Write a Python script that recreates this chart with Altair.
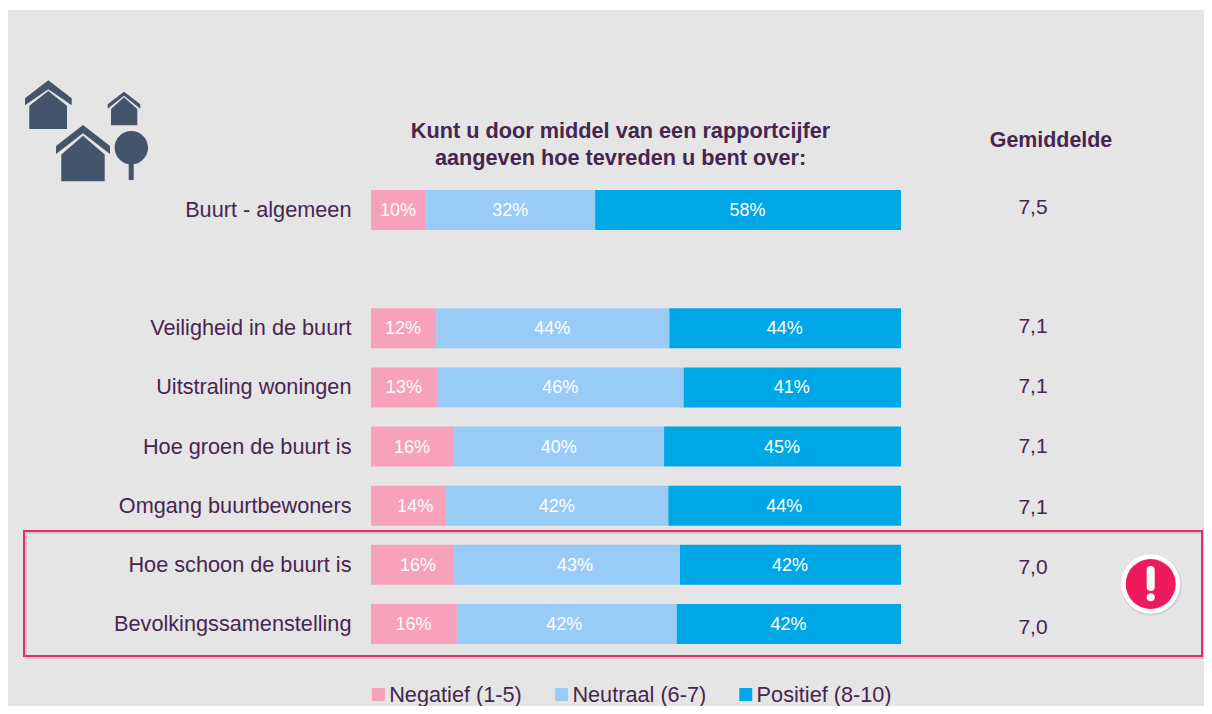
import altair as alt
import pandas as pd

# ---------- data ----------
rows = ["Buurt - algemeen", " ", "Veiligheid in de buurt", "Uitstraling woningen",
        "Hoe groen de buurt is", "Omgang buurtbewoners",
        "Hoe schoon de buurt is", "Bevolkingssamenstelling"]
series = ["Negatief (1-5)", "Neutraal (6-7)", "Positief (8-10)"]
colors = ["#f7a1bb", "#99cbf7", "#00a7e6"]

negatief = [10.4, None, 12.3, 12.6, 15.7, 14.2, 15.7, 16.2]
neutraal = [31.9, None, 44.0, 46.4, 39.6, 41.9, 42.6, 41.5]
positief = [57.7, None, 43.7, 41.0, 44.7, 43.9, 41.7, 42.3]

lab_neg = ["10%", None, "12%", "13%", "16%", "14%", "16%", "16%"]
lab_neu = ["32%", None, "44%", "46%", "40%", "42%", "43%", "42%"]
lab_pos = ["58%", None, "44%", "41%", "45%", "44%", "42%", "42%"]

gemiddelde = ["7,5", None, "7,1", "7,1", "7,1", "7,1", "7,0", "7,0"]

header = ["Kunt u door middel van een rapportcijfer",
          "aangeven hoe tevreden u bent over:"]

# ---------- layout / style ----------
TXT = "#46264f"
GREY = "#e5e5e5"
ICON = "#44546a"
ALERT = "#ef1a5b"
FONT = "Liberation Sans"
PAGE_W, PAGE_H = 1196, 698    # size of the svg
OX, OY = 371, 180.43          # page position of the plot origin
STEP = 59.14
gem_dy = [-2, 0, -1, 0, 0, 2.5, 3.5, 4.5]
nudges = {("Omgang buurtbewoners", 0): 6.5, ("Hoe schoon de buurt is", 0): 5.5,
          ("Hoe schoon de buurt is", 1): 8, ("Bevolkingssamenstelling", 1): -2.5}


def px(x):
    return alt.value(x - OX)


def py(y):
    return alt.value(y - OY)


recs = []
for i, r in enumerate(rows):
    if negatief[i] is None:
        continue
    start = 0.0
    vals = (negatief[i], neutraal[i], positief[i])
    labs = (lab_neg[i], lab_neu[i], lab_pos[i])
    for j, s in enumerate(series):
        recs.append({"row": r, "series": s, "idx": j, "start": start, "end": start + vals[j],
                     "mid": start + vals[j] / 2, "label": labs[j]})
        start += vals[j]
df = pd.DataFrame(recs)

one = pd.DataFrame({"a": [0]})
base = alt.Chart(one)

xs = alt.Scale(domain=[0, 100], nice=False, zero=False)
ys = alt.Scale(domain=rows, paddingInner=1 - 40 / STEP, paddingOuter=(1 - 40 / STEP) / 2)
X = alt.X("start:Q", scale=xs, axis=None)
Y = alt.Y("row:N", scale=ys, sort=None, title=None,
          axis=alt.Axis(domain=False, ticks=False, labelFontSize=21.7, labelColor=TXT, labelFont=FONT,
                        labelPadding=20, labelLimit=340, grid=False, zindex=1))

panel = base.mark_rect(fill=GREY).encode(x=px(8), x2=px(8 + PAGE_W), y=py(10), y2=py(8 + PAGE_H))

bars = alt.Chart(df).mark_bar(size=40).encode(
    x=X, x2="end:Q", y=Y,
    color=alt.Color("series:N", sort=series,
                    scale=alt.Scale(domain=series, range=colors),
                    legend=alt.Legend(orient="none", legendX=-3.5, legendY=503, direction="horizontal",
                                      columns=3, title=None, symbolType="square", symbolSize=169,
                                      symbolStrokeWidth=0, symbolOpacity=1, labelFontSize=21.7, labelColor=TXT,
                                      labelFont=FONT, labelOffset=0, columnPadding=28.2, labelLimit=200)),
)

layers = [panel, bars]

nudged = set(nudges)
plain = df[[(r, i) not in nudged for r, i in zip(df["row"], df["idx"])]]
text_kw = dict(color="white", fontSize=18, font=FONT, baseline="middle", align="center", dy=1)
layers.append(alt.Chart(plain).mark_text(dx=-0.5, **text_kw).encode(
    x=alt.X("mid:Q", scale=xs, axis=None), y=alt.Y("row:N", scale=ys, sort=None), text="label:N"))
for (r, i), d in nudges.items():
    sub = df[(df["row"] == r) & (df["idx"] == i)]
    layers.append(alt.Chart(sub).mark_text(dx=d, **text_kw).encode(
        x=alt.X("mid:Q", scale=xs, axis=None), y=alt.Y("row:N", scale=ys, sort=None), text="label:N"))

# average column
for i, g in enumerate(gemiddelde):
    if g is None:
        continue
    sub = pd.DataFrame({"row": [rows[i]], "g": [g]})
    layers.append(alt.Chart(sub).mark_text(color=TXT, fontSize=21, font=FONT, baseline="middle",
                                           align="center", dy=gem_dy[i]).encode(
        x=px(1033), y=alt.Y("row:N", scale=ys, sort=None), text="g:N"))

# headers
for line, yy in zip(header, (131, 158)):
    layers.append(base.mark_text(text=line, color=TXT, fontSize=21.7, fontWeight="bold", font=FONT,
                                 baseline="middle", align="center").encode(x=px(620.5), y=py(yy)))
layers.append(base.mark_text(text="Gemiddelde", color=TXT, fontSize=21.4, fontWeight="bold", font=FONT,
                             baseline="middle", align="center").encode(x=px(1051), y=py(141)))

# icon: three houses and a tree, drawn as one custom symbol (size 4 = 1 unit per pixel)
def house(peak, left, right, roof_lo, roof_hi, inner, body_top, bl, br, eave, bottom):
    return (f"M{peak} {roof_hi}L{right} {roof_lo}L{right} {roof_lo + (eave)}L{peak} {inner}"
            f"L{left} {roof_lo + (eave)}L{left} {roof_lo}Z"
            f"M{peak} {body_top}L{br} {roof_lo + eave + 0.4}L{br} {bottom}L{bl} {bottom}L{bl} {roof_lo + eave + 0.4}Z")


icon_path = (
    house(48.3, 25, 71.7, 98.3, 80.3, 89.3, 91, 29.3, 67, 7, 129)
    + house(124, 107.7, 140.3, 104.3, 91.7, 95.7, 97.3, 111, 137.3, 4.4, 125.3)
    + house(83, 56, 110, 146, 125, 133.3, 135.7, 61.3, 104.7, 8, 181.3)
    + "M114.6 147.7A16.7 16.7 0 1 1 148 147.7A16.7 16.7 0 1 1 114.6 147.7Z"
    + "M128.7 160L133.7 160L133.7 180L128.7 180Z"
)
layers.append(base.mark_point(shape=icon_path, size=4, filled=True, fill=ICON, stroke=ICON,
                              strokeWidth=0, opacity=1).encode(x=px(0), y=py(0)))

# highlight frame
layers.append(base.mark_rect(fill="transparent", stroke="#000000", strokeWidth=2, opacity=0.1).encode(
    x=px(26), x2=px(1204), y=py(533), y2=py(658)))
layers.append(base.mark_rect(fill="transparent", stroke="#ec2a63", strokeWidth=2).encode(
    x=px(24), x2=px(1202), y=py(531), y2=py(656)))

# alert badge
layers.append(base.mark_point(shape="circle", filled=True, fill="#000000", opacity=0.1, strokeWidth=0,
                              size=(2 * 30.5) ** 2).encode(x=px(1151.2), y=py(585)))
layers.append(base.mark_point(shape="circle", filled=True, fill="white", opacity=1, strokeWidth=0,
                              size=(2 * 29.7) ** 2).encode(x=px(1150.7), y=py(584)))
layers.append(base.mark_point(shape="circle", filled=True, fill=ALERT, opacity=1, strokeWidth=0,
                              size=(2 * 25) ** 2).encode(x=px(1150.7), y=py(584)))
layers.append(base.mark_rule(color="white", strokeWidth=8, strokeCap="round").encode(
    x=px(1150.7), y=py(570), y2=py(587)))
layers.append(base.mark_point(shape="circle", filled=True, fill="white", opacity=1, strokeWidth=0,
                              size=(2 * 4) ** 2).encode(x=px(1150.7), y=py(597.3)))

chart = alt.layer(*layers).resolve_scale(y="shared", x="independent").properties(
    width=530,
    height=STEP * 8,
    background="white",
    padding={"left": OX - 8, "top": OY - 8, "right": 8 + PAGE_W - OX - 530,
             "bottom": PAGE_H - (OY - 8) - STEP * 8},
    autosize=alt.AutoSizeParams(type="none"),
).configure_view(stroke=None)

chart.save("out.html", embed_options={"renderer": "svg", "actions": False})
